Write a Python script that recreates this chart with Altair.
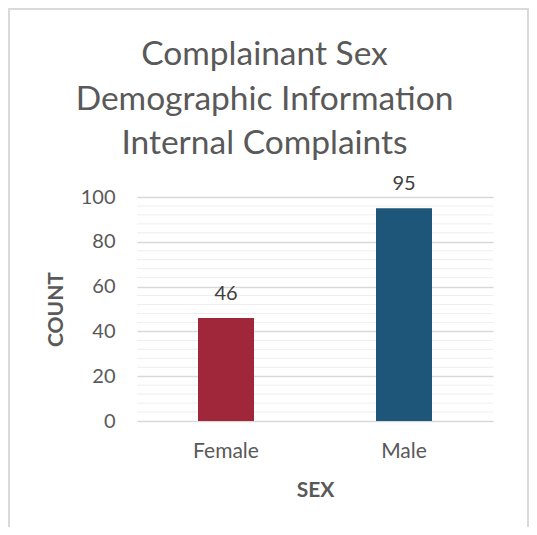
import altair as alt
import pandas as pd

categories = ["Female", "Male"]
counts = [46, 95]
bar_colors = ["#A0273A", "#1E5679"]
major_ticks = [0, 20, 40, 60, 80, 100]
minor_ticks = [4, 8, 12, 16, 24, 28, 32, 36, 44, 48, 52, 56, 64, 68, 72, 76, 84, 88, 92, 96]
title_lines = ["Complainant Sex", "Demographic Information", "Internal Complaints"]

FONT = "Lato"
GREY = "#595959"

df = pd.DataFrame({"sex": categories, "count": counts, "color": bar_colors})
grid_df = pd.DataFrame({"v": minor_ticks})
one = pd.DataFrame({"a": [0]})

xenc = alt.X("sex:N", sort=categories,
             scale=alt.Scale(paddingInner=0, paddingOuter=0),
             axis=alt.Axis(title="SEX", labelAngle=0, domain=False, ticks=False,
                           labelFont=FONT, labelFontSize=21, labelColor=GREY,
                           labelPadding=19, titleFont=FONT, titleFontSize=21,
                           titleFontWeight="bold", titleColor=GREY, titlePadding=18))
yenc = alt.Y("count:Q", scale=alt.Scale(domain=[0, 100], nice=False),
             axis=alt.Axis(title="COUNT", values=major_ticks, domain=False, ticks=False,
                           gridColor="#d9d9d9", gridWidth=1.3,
                           labelFont=FONT, labelFontSize=20, labelColor=GREY,
                           labelPadding=22, titleFont=FONT, titleFontSize=21,
                           titleFontWeight="bold", titleColor=GREY, titlePadding=14))

minor = alt.Chart(grid_df).mark_rule(color="#eeeeee", strokeWidth=1).encode(
    y=alt.Y("v:Q", scale=alt.Scale(domain=[0, 100], nice=False)))

bars = alt.Chart(df).mark_bar(size=56).encode(
    x=xenc, y=yenc, color=alt.Color("color:N", scale=None))

labels = alt.Chart(df).mark_text(font=FONT, fontSize=20, color="#404040",
                                 baseline="alphabetic", dy=-18).encode(
    x=alt.X("sex:N", sort=categories), y="count:Q", text="count:Q")

# chart title, three centred lines
title_layers = []
for line, ybase in zip(title_lines, [-132, -87, -43]):
    title_layers.append(
        alt.Chart(pd.DataFrame({"t": [line]})).mark_text(
            font=FONT, fontSize=33.5, color=GREY, baseline="alphabetic", align="center"
        ).encode(x=alt.value(127.5), y=alt.value(ybase), text="t:N"))

FR = "#d9d9d9"
left = alt.Chart(one).mark_rule(color=FR, strokeWidth=2).encode(
    x=alt.value(-128), y=alt.value(-188), y2=alt.value(340))
right = alt.Chart(one).mark_rule(color=FR, strokeWidth=2).encode(
    x=alt.value(391), y=alt.value(-188), y2=alt.value(340))
top = alt.Chart(one).mark_rule(color=FR, strokeWidth=2).encode(
    x=alt.value(-129), x2=alt.value(392), y=alt.value(-188))

chart = alt.layer(minor, bars, labels, *title_layers, left, right, top).properties(
    width=356, height=224,
    autosize=alt.AutoSizeParams(type="none"),
    padding={"left": 129, "top": 189, "right": 36, "bottom": 106},
).configure_view(stroke=None)

chart.save("out.html", embed_options={"renderer": "svg", "actions": False})
